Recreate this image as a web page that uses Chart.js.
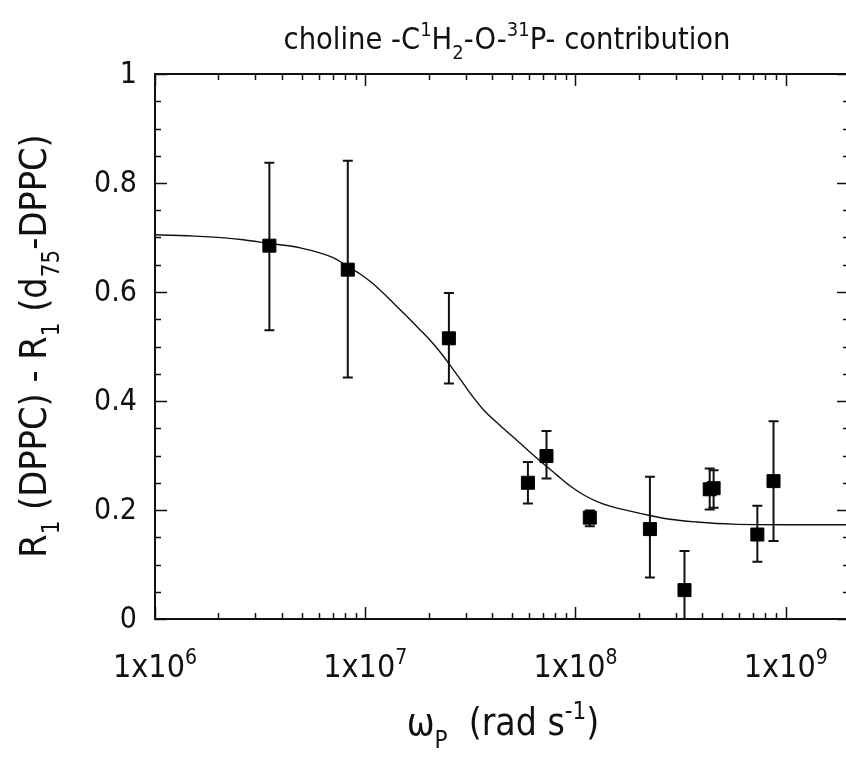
<!DOCTYPE html>
<html>
<head>
<meta charset="utf-8">
<script src="https://cdn.jsdelivr.net/npm/chart.js@4.4.1/dist/chart.umd.min.js"></script>
<style>
html, body { margin: 0; padding: 0; background: #fff; overflow: hidden; }
#wrap { width: 846px; height: 758px; overflow: hidden; position: relative; }
#myChart { position: absolute; left: 0; top: 0; }
</style>
</head>
<body>
<div id="wrap"><canvas id="myChart" width="852" height="758"></canvas></div>
<script>
// measured points, omega_P in rad/s
var omega   = [3.50e6, 8.26e6, 2.50e7, 5.94e7, 7.28e7, 1.17e8, 2.26e8, 3.30e8, 4.35e8, 4.54e8, 7.33e8, 8.75e8];
var deltaR1 = [0.685, 0.641, 0.515, 0.250, 0.299, 0.186, 0.165, 0.053, 0.238, 0.240, 0.155, 0.253];
var errLow  = [0.530, 0.443, 0.432, 0.212, 0.258, 0.170, 0.076, -0.03, 0.201, 0.204, 0.105, 0.143];
var errHigh = [0.837, 0.841, 0.598, 0.288, 0.345, 0.199, 0.261, 0.125, 0.276, 0.273, 0.208, 0.363];

// fit curve
var fitOmega = [1.0e6, 1.64e6, 2.63e6, 3.50e6, 4.91e6, 7.03e6, 8.26e6, 9.46e6, 1.09e7, 1.36e7,
                1.58e7, 1.83e7, 2.04e7, 2.27e7, 2.54e7, 2.83e7, 3.16e7, 3.65e7, 4.38e7, 5.26e7,
                6.08e7, 7.04e7, 8.16e7, 9.44e7, 1.09e8, 1.26e8, 1.46e8, 1.82e8, 2.26e8, 2.81e8,
                3.78e8, 5.62e8, 1.0e9, 2.0e9];
var fitR1    = [0.705, 0.702, 0.696, 0.689, 0.681, 0.663, 0.647, 0.633, 0.615, 0.580,
                0.555, 0.530, 0.511, 0.490, 0.465, 0.440, 0.414, 0.384, 0.355, 0.328,
                0.306, 0.285, 0.264, 0.244, 0.228, 0.216, 0.207, 0.198, 0.190, 0.183,
                0.178, 0.174, 0.173, 0.173];

// axis ticks
var xTicks = [1e6, 1e7, 1e8, 1e9];
var xTickExp = ['6', '7', '8', '9'];
var yTicks = [0, 0.2, 0.4, 0.6, 0.8, 1];
var yTickLabels = ['0', '0.2', '0.4', '0.6', '0.8', '1'];

var FONT = '"Liberation Sans Narrow", "DejaVu Sans Condensed", "Liberation Sans", sans-serif';
var INK = '#111';

// draw text made of normal / superscript / subscript pieces
function richWidth(ctx, runs, big, small) {
  var w = 0;
  runs.forEach(function (r) {
    ctx.font = (r[1] === 'n' ? big : small) + 'px ' + FONT;
    w += ctx.measureText(r[0]).width;
  });
  return w;
}
function drawRich(ctx, runs, x, y, big, small, align) {
  var w = richWidth(ctx, runs, big, small);
  var cx = align === 'center' ? x - w / 2 : (align === 'right' ? x - w : x);
  ctx.textBaseline = 'alphabetic';
  ctx.textAlign = 'left';
  runs.forEach(function (r) {
    var dy = 0;
    if (r[1] === 'sup') dy = -big * 0.42;
    if (r[1] === 'sub') dy = big * 0.34;
    ctx.font = (r[1] === 'n' ? big : small) + 'px ' + FONT;
    ctx.fillText(r[0], cx, y + dy);
    cx += ctx.measureText(r[0]).width;
  });
}

var framePlugin = {
  id: 'frame',
  beforeDatasetsDraw: function (chart) {
    var ctx = chart.ctx, a = chart.chartArea;
    var xs = chart.scales.x, ys = chart.scales.y;
    ctx.save();
    ctx.beginPath();
    ctx.rect(a.left, a.top, a.right - a.left, a.bottom - a.top);
    ctx.clip();
    // error bars
    ctx.strokeStyle = INK;
    ctx.lineWidth = 2;
    for (var i = 0; i < omega.length; i++) {
      var px = xs.getPixelForValue(omega[i]);
      var lo = ys.getPixelForValue(errLow[i]);
      var hi = ys.getPixelForValue(errHigh[i]);
      ctx.beginPath();
      ctx.moveTo(px, lo); ctx.lineTo(px, hi);
      ctx.moveTo(px - 5, lo); ctx.lineTo(px + 5, lo);
      ctx.moveTo(px - 5, hi); ctx.lineTo(px + 5, hi);
      ctx.stroke();
    }
    ctx.restore();
  },
  afterDraw: function (chart) {
    var ctx = chart.ctx, a = chart.chartArea;
    var xs = chart.scales.x, ys = chart.scales.y;
    ctx.save();
    ctx.strokeStyle = INK;
    ctx.lineWidth = 2;
    ctx.strokeRect(a.left, a.top, a.right - a.left, a.bottom - a.top);

    // inward ticks, log x
    ctx.lineWidth = 1.5;
    ctx.beginPath();
    for (var d = 6; d <= 9; d++) {
      for (var k = 1; k <= 9; k++) {
        var v = k * Math.pow(10, d);
        if (v > xs.max) break;
        var px = Math.round(xs.getPixelForValue(v)) + 0.5;
        var len = k === 1 ? 12 : 6;
        ctx.moveTo(px, a.bottom); ctx.lineTo(px, a.bottom - len);
        ctx.moveTo(px, a.top); ctx.lineTo(px, a.top + len);
      }
    }
    // inward ticks, y every 0.05
    for (var j = 0; j <= 20; j++) {
      var py = Math.round(ys.getPixelForValue(j * 0.05)) + 0.5;
      var ln = j % 4 === 0 ? 12 : 6;
      ctx.moveTo(a.left, py); ctx.lineTo(a.left + ln, py);
      ctx.moveTo(a.right, py); ctx.lineTo(a.right - ln, py);
    }
    ctx.stroke();

    ctx.fillStyle = INK;
    // y tick labels
    ctx.font = '30px ' + FONT;
    ctx.textAlign = 'right';
    ctx.textBaseline = 'middle';
    yTicks.forEach(function (t, i) {
      ctx.fillText(yTickLabels[i], a.left - 18, ys.getPixelForValue(t) + 1);
    });
    // x tick labels
    xTicks.forEach(function (t, i) {
      drawRich(ctx, [['1x10', 'n'], [xTickExp[i], 'sup']], xs.getPixelForValue(t), a.bottom + 58, 32, 21, 'center');
    });

    // title
    drawRich(ctx, [['choline -C', 'n'], ['1', 'sup'], ['H', 'n'], ['2', 'sub'], ['-O-', 'n'],
                   ['31', 'sup'], ['P- contribution', 'n']], 507, 49, 30.5, 20, 'center');
    // x axis title
    drawRich(ctx, [['\u03c9', 'n'], ['P', 'sub'], ['  (rad s', 'n'], ['-1', 'sup'], [')', 'n']],
             503, 735, 37, 24, 'center');
    // y axis title
    ctx.translate(46, 346);
    ctx.rotate(-Math.PI / 2);
    drawRich(ctx, [['R', 'n'], ['1', 'sub'], [' (DPPC) - R', 'n'], ['1', 'sub'], [' (d', 'n'],
                   ['75', 'sub'], ['-DPPC)', 'n']], 0, 0, 37.5, 24, 'center');
    ctx.restore();
  }
};

var fitPoints = fitOmega.map(function (w, i) { return { x: w, y: fitR1[i] }; });
var dataPoints = omega.map(function (w, i) { return { x: w, y: deltaR1[i] }; });

var ctx = document.getElementById('myChart').getContext('2d');
var myChart = new Chart(ctx, {
  type: 'scatter',
  data: {
    datasets: [{
      label: 'fit',
      data: fitPoints,
      showLine: true,
      borderColor: INK,
      borderWidth: 1.4,
      pointRadius: 0,
      cubicInterpolationMode: 'monotone',
      order: 2
    }, {
      label: 'measured',
      data: dataPoints,
      pointStyle: 'rect',
      pointRadius: 9.2,
      backgroundColor: '#000',
      borderColor: '#000',
      borderWidth: 1,
      order: 1
    }]
  },
  options: {
    responsive: false,
    animation: false,
    layout: { autoPadding: false, padding: { left: 155, top: 74, right: 3, bottom: 139 } },
    scales: {
      x: { type: 'logarithmic', min: 1e6, max: 2e9, display: false },
      y: { type: 'linear', min: 0, max: 1, display: false }
    },
    plugins: {
      legend: { display: false },
      tooltip: { enabled: false }
    }
  },
  plugins: [framePlugin]
});
</script>
</body>
</html>
